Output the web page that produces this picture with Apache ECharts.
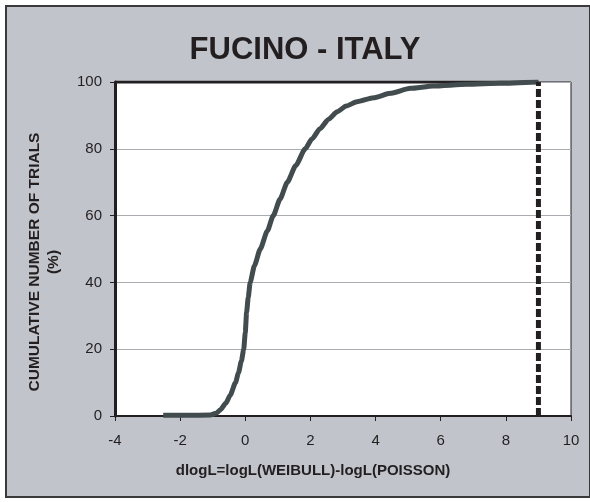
<!DOCTYPE html>
<html>
<head>
<meta charset="utf-8">
<script src="https://cdn.jsdelivr.net/npm/echarts@6/dist/echarts.min.js"></script>
<style>html,body{margin:0;padding:0;background:#fff}#c{width:590px;height:502px}</style>
</head>
<body>
<div id="c"></div>
<script>
var titleText = 'FUCINO - ITALY';
var xAxisName = 'dlogL=logL(WEIBULL)-logL(POISSON)';
var yAxisName = 'CUMULATIVE NUMBER OF TRIALS\n(%)';
var xTicks = [-4, -2, 0, 2, 4, 6, 8, 10];
var yTicks = [0, 20, 40, 60, 80, 100];
var curveX = [-2.52, -1.8, -1.07, -0.9, -0.77, -0.6, -0.46, -0.3, -0.21, -0.12, -0.05, 0.0, 0.04, 0.09, 0.15, 0.28, 0.46, 0.68, 0.86, 1.07, 1.29, 1.55, 1.84, 2.05, 2.3, 2.55, 2.82, 3.1, 3.43, 3.94, 4.45, 5.07, 5.77, 6.8, 7.83, 9.0];
var curveY = [0.2, 0.2, 0.3, 0.8, 1.8, 3.8, 6.3, 10.0, 12.9, 16.5, 19.8, 25.0, 31.0, 35.5, 40.0, 45.0, 50.0, 55.5, 60.0, 65.0, 70.0, 75.0, 80.0, 83.0, 86.1, 88.8, 91.1, 92.8, 94.1, 95.3, 96.6, 98.1, 98.8, 99.3, 99.6, 100];
var thresholdX = 9;
var topLineX = [-4, 9];
var topLineY = [100, 100];

var curve = curveX.map(function (x, i) { return [x, curveY[i]]; });
var topLine = topLineX.map(function (x, i) { return [x, topLineY[i]]; });

var chart = echarts.init(document.getElementById('c'), null, {renderer: 'canvas'});
var font = 'Liberation Sans, Arial, sans-serif';
chart.setOption({
  backgroundColor: '#ffffff',
  animation: false,
  graphic: [{
    type: 'rect', z: -100, silent: true,
    shape: {x: 6, y: 6, width: 584, height: 491},
    style: {fill: '#c1c4cb', stroke: '#3a3a3a', lineWidth: 2}
  }, {
    type: 'text', z: 10, silent: true,
    x: 44, y: 262, rotation: Math.PI / 2,
    style: {text: yAxisName, align: 'center', verticalAlign: 'middle',
      font: 'bold 15.5px Liberation Sans, Arial, sans-serif', fill: '#231f20', lineHeight: 19}
  }],
  title: {
    text: titleText, left: 300, top: 30, textAlign: 'center',
    textStyle: {fontFamily: font, fontSize: 31, fontWeight: 'bold', color: '#231f20'}
  },
  grid: {
    left: 115, right: 19, top: 82, bottom: 86,
    show: true, backgroundColor: '#ffffff', borderColor: '#231f20', borderWidth: 1
  },
  xAxis: {
    type: 'value', min: -4, max: 10, interval: 2,
    name: xAxisName, nameLocation: 'middle', nameGap: 47,
    nameTextStyle: {fontFamily: font, fontSize: 15, fontWeight: 'bold', color: '#231f20', padding: [0, 0, 0, -60]},
    axisLine: {show: true, onZero: false, lineStyle: {color: '#231f20', width: 2}},
    axisTick: {show: true, length: 5, lineStyle: {color: '#231f20', width: 1}},
    axisLabel: {fontFamily: font, fontSize: 15, color: '#231f20', margin: 17,
      formatter: function (v) { return xTicks.indexOf(v) >= 0 ? String(v) : ''; }},
    splitLine: {show: false}
  },
  yAxis: {
    type: 'value', min: 0, max: 100, interval: 20,
    axisLine: {show: true, onZero: false, lineStyle: {color: '#231f20', width: 3}},
    axisTick: {show: true, length: 5, lineStyle: {color: '#231f20', width: 1}},
    axisLabel: {fontFamily: font, fontSize: 15, color: '#231f20', margin: 13,
      formatter: function (v) { return yTicks.indexOf(v) >= 0 ? String(v) : ''; }},
    splitLine: {show: true, lineStyle: {color: '#a9adb2', width: 1}}
  },
  series: [
    {
      type: 'line', data: topLine, symbol: 'none', silent: true,
      lineStyle: {color: '#231f20', width: 3}, z: 3
    },
    {
      type: 'line', data: curve, symbol: 'none', smooth: 0.2, smoothMonotone: 'x', silent: true,
      lineStyle: {color: '#424b4d', width: 5}, z: 4
    },
    {
      type: 'line', data: [[thresholdX, 0], [thresholdX, 100]], symbol: 'none', silent: true,
      lineStyle: {color: '#231f20', width: 5, type: [8, 3]}, z: 5
    }
  ]
});
</script>
</body>
</html>
